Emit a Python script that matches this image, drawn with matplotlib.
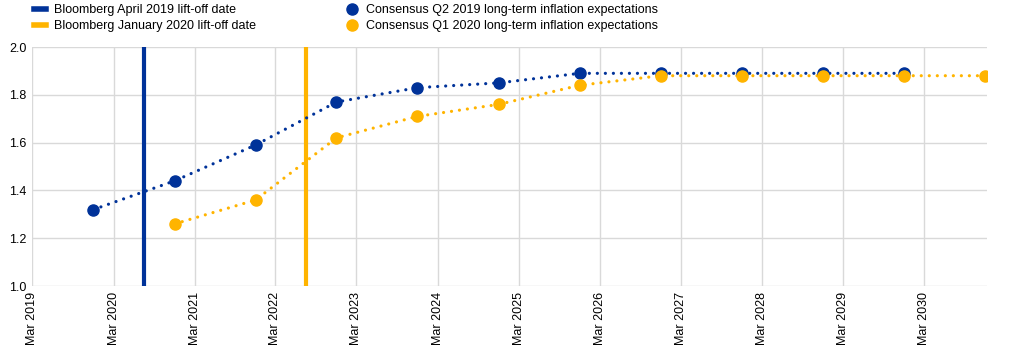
import matplotlib
matplotlib.use("Agg")
import matplotlib.pyplot as plt
import matplotlib.dates as mdates
from matplotlib.lines import Line2D
import datetime as dt

BLUE = "#003299"
YELLOW = "#FFB400"

# Consensus long-term inflation expectations (annual, Q4 points)
q2_2019_years = [2019, 2020, 2021, 2022, 2023, 2024, 2025, 2026, 2027, 2028, 2029]
q2_2019_vals = [1.32, 1.44, 1.59, 1.77, 1.83, 1.85, 1.89, 1.89, 1.89, 1.89, 1.89]
q1_2020_years = [2020, 2021, 2022, 2023, 2024, 2025, 2026, 2027, 2028, 2029, 2030]
q1_2020_vals = [1.26, 1.36, 1.62, 1.71, 1.76, 1.84, 1.88, 1.88, 1.88, 1.88, 1.88]

# Bloomberg lift-off dates
liftoff_apr2019 = dt.date(2020, 7, 15)
liftoff_jan2020 = dt.date(2022, 7, 15)

tick_years = list(range(2019, 2031))

plt.rcParams.update({"font.family": ["Liberation Sans", "DejaVu Sans"], "font.size": 9})

fig = plt.figure(figsize=(10.1, 3.51), dpi=100)
ax = fig.add_axes([0.032, 0.185, 0.945, 0.681])

x1 = [dt.date(y, 12, 1) for y in q2_2019_years]
x2 = [dt.date(y, 12, 1) for y in q1_2020_years]
dots = (0, (0.01, 2.5))
ax.plot(x2, q1_2020_vals, color=YELLOW, lw=2.3, ls=dots, dash_capstyle="round", zorder=3)
ax.plot(x2, q1_2020_vals, "o", color=YELLOW, ms=8, zorder=4)
ax.plot(x1, q2_2019_vals, color=BLUE, lw=2.3, ls=dots, dash_capstyle="round", zorder=3)
ax.plot(x1, q2_2019_vals, "o", color=BLUE, ms=8, zorder=3.5)

ax.axvline(liftoff_apr2019, color=BLUE, lw=3, zorder=2)
ax.axvline(liftoff_jan2020, color=YELLOW, lw=3, zorder=2)

ax.set_xlim(dt.date(2019, 3, 1), dt.date(2030, 12, 10))
ax.set_ylim(1.0, 2.0)
ax.set_yticks([1.0, 1.2, 1.4, 1.6, 1.8, 2.0])
ax.yaxis.set_major_formatter(plt.FormatStrFormatter("%.1f"))
ax.set_xticks([dt.date(y, 3, 1) for y in tick_years])
ax.xaxis.set_major_formatter(mdates.DateFormatter("Mar %Y"))
plt.setp(ax.get_xticklabels(), rotation=90)
ax.tick_params(length=0, pad=4)
ax.grid(True, color="#d9d9d9", lw=1)
ax.set_axisbelow(True)
for s in ax.spines.values():
    s.set_visible(False)

handles = [
    Line2D([], [], color=BLUE, lw=4),
    Line2D([], [], color=YELLOW, lw=4),
    Line2D([], [], color=BLUE, marker="o", ls="none", ms=8),
    Line2D([], [], color=YELLOW, marker="o", ls="none", ms=8),
]
labels = [
    "Bloomberg April 2019 lift-off date",
    "Bloomberg January 2020 lift-off date",
    "Consensus Q2 2019 long-term inflation expectations",
    "Consensus Q1 2020 long-term inflation expectations",
]
fig.legend(handles, labels, ncol=2, loc="upper left", bbox_to_anchor=(0.023, 1.02),
           frameon=False, handlelength=0.9, handletextpad=0.7, columnspacing=7.2,
           labelspacing=0.3, fontsize=9)

fig.savefig("out.png", dpi=100)
